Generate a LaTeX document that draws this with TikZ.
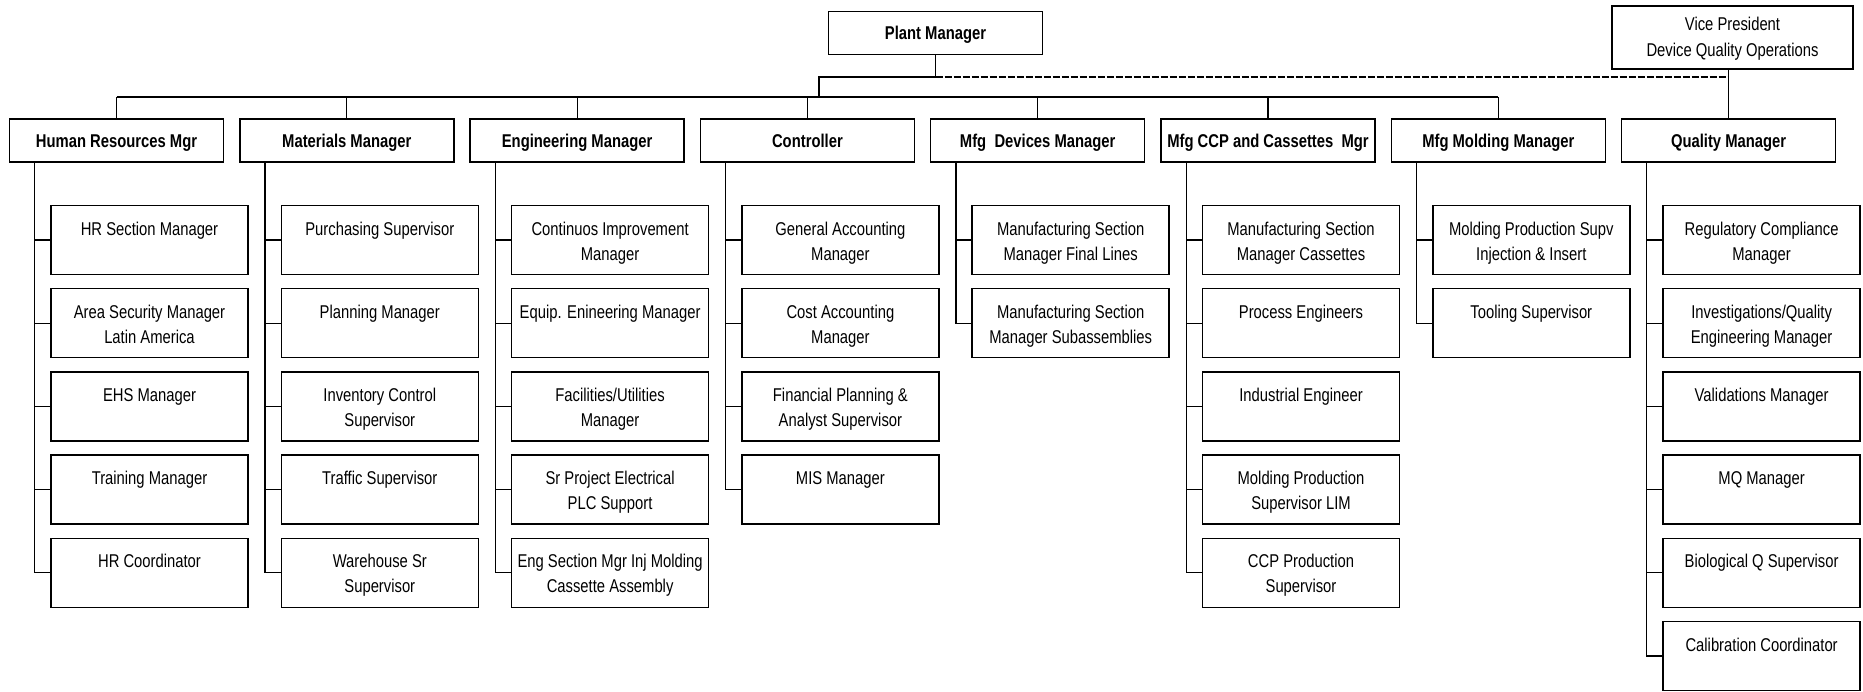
\documentclass[tikz,border=0pt]{standalone}
\usepackage{fontspec}
\setmainfont{Liberation Sans}[FakeStretch=0.8]
\newcommand\mystrut{\rule[-5pt]{0pt}{18pt}}
\newcommand\firststrut{\rule[-5pt]{0pt}{25pt}}
\tikzset{
  boxline/.style={draw=black, line width=1.5pt},
  topnode/.style={boxline, minimum width=214pt, minimum height=43pt, inner sep=0pt,
    font=\fontsize{18.5pt}{25pt}\selectfont\bfseries, text height=13.2pt, text depth=0pt},
  kidnode/.style={boxline, minimum width=197pt, minimum height=69pt, inner sep=0pt,
    align=center, font=\fontsize{18.5pt}{25pt}\selectfont},
  conn/.style={draw=black, line width=1.2pt},
  dotline/.style={draw=black, line width=1.2pt, dash pattern=on 7pt off 2pt},
}
\newcommand\topbox[3]{%
  \pgfmathsetmacro\bxL{9.5+230.3*#2}%
  \node[topnode] (#1) at (\bxL+107,140.5) {#3};}
\newcommand\kidbox[6]{%
  \pgfmathsetmacro\bxL{9.5+230.3*#1+41.5}%
  \pgfmathsetmacro\bxT{205.5+83.2*#2}%
  \node[kidnode] (#3) at (\bxL+98.5,\bxT+34.5) {\firststrut #5\\\mystrut #6};
  \draw[conn] ([xshift=26pt]#4.south west) |- (#3.west);}
\begin{document}
\begin{tikzpicture}[x=1pt,y=-1pt]
\useasboundingbox (0,0) rectangle (1863,691);
% top
\node[topnode] (pm) at (935.5,33) {Plant Manager};
\node[boxline, minimum width=241pt, minimum height=63pt, inner sep=0pt, align=center,
  font=\fontsize{18.5pt}{26pt}\selectfont] (vp) at (1732.5,37.5)
  {\rule[-5pt]{0pt}{22pt}Vice President\\\mystrut Device Quality Operations};
% second level
\topbox{hr}{0}{Human Resources Mgr}
\topbox{mat}{1}{Materials Manager}
\topbox{eng}{2}{Engineering Manager}
\topbox{ctl}{3}{Controller}
\topbox{dev}{4}{Mfg\ \ Devices Manager}
\topbox{ccp}{5}{Mfg CCP and Cassettes\ \ Mgr}
\topbox{mol}{6}{Mfg Molding Manager}
\topbox{qm}{7}{Quality Manager}
% top connectors
\coordinate (pmj) at (935.5,77);
\coordinate (upl) at (819,77);
\coordinate (bus) at (819,97);
\draw[conn] (pm.south) -- (pmj) -- (upl) -- (bus);
\draw[dotline] (pmj) -- (pmj -| qm.north);
\draw[conn] (qm.north) -- (qm.north |- vp.south);
\draw[conn] (hr.north |- bus) -- (mol.north |- bus);
\foreach \n in {hr,mat,eng,ctl,dev,ccp,mol}{
  \draw[conn] (\n.north) -- (\n.north |- bus);
}
% HR
\kidbox{0}{0}{hr1}{hr}{HR Section Manager}{}
\kidbox{0}{1}{hr2}{hr}{Area Security Manager}{Latin America}
\kidbox{0}{2}{hr3}{hr}{EHS Manager}{}
\kidbox{0}{3}{hr4}{hr}{Training Manager}{}
\kidbox{0}{4}{hr5}{hr}{HR Coordinator}{}
% Materials
\kidbox{1}{0}{mat1}{mat}{Purchasing Supervisor}{}
\kidbox{1}{1}{mat2}{mat}{Planning Manager}{}
\kidbox{1}{2}{mat3}{mat}{Inventory Control}{Supervisor}
\kidbox{1}{3}{mat4}{mat}{Traffic Supervisor}{}
\kidbox{1}{4}{mat5}{mat}{Warehouse Sr}{Supervisor}
% Engineering
\kidbox{2}{0}{eng1}{eng}{Continuos Improvement}{Manager}
\kidbox{2}{1}{eng2}{eng}{Equip. Enineering Manager}{}
\kidbox{2}{2}{eng3}{eng}{Facilities/Utilities}{Manager}
\kidbox{2}{3}{eng4}{eng}{Sr Project Electrical}{PLC Support}
\kidbox{2}{4}{eng5}{eng}{Eng Section Mgr Inj Molding}{Cassette Assembly}
% Controller
\kidbox{3}{0}{ctl1}{ctl}{General Accounting}{Manager}
\kidbox{3}{1}{ctl2}{ctl}{Cost Accounting}{Manager}
\kidbox{3}{2}{ctl3}{ctl}{Financial Planning \&}{Analyst Supervisor}
\kidbox{3}{3}{ctl4}{ctl}{MIS Manager}{}
% Mfg Devices
\kidbox{4}{0}{dev1}{dev}{Manufacturing Section}{Manager Final Lines}
\kidbox{4}{1}{dev2}{dev}{Manufacturing Section}{Manager Subassemblies}
% Mfg CCP
\kidbox{5}{0}{ccp1}{ccp}{Manufacturing Section}{Manager Cassettes}
\kidbox{5}{1}{ccp2}{ccp}{Process Engineers}{}
\kidbox{5}{2}{ccp3}{ccp}{Industrial Engineer}{}
\kidbox{5}{3}{ccp4}{ccp}{Molding Production}{Supervisor LIM}
\kidbox{5}{4}{ccp5}{ccp}{CCP Production}{Supervisor}
% Mfg Molding
\kidbox{6}{0}{mol1}{mol}{Molding Production Supv}{Injection \& Insert}
\kidbox{6}{1}{mol2}{mol}{Tooling Supervisor}{}
% Quality
\kidbox{7}{0}{qm1}{qm}{Regulatory Compliance}{Manager}
\kidbox{7}{1}{qm2}{qm}{Investigations/Quality}{Engineering Manager}
\kidbox{7}{2}{qm3}{qm}{Validations Manager}{}
\kidbox{7}{3}{qm4}{qm}{MQ Manager}{}
\kidbox{7}{4}{qm5}{qm}{Biological Q Supervisor}{}
\kidbox{7}{5}{qm6}{qm}{Calibration Coordinator}{}
\end{tikzpicture}
\end{document}
